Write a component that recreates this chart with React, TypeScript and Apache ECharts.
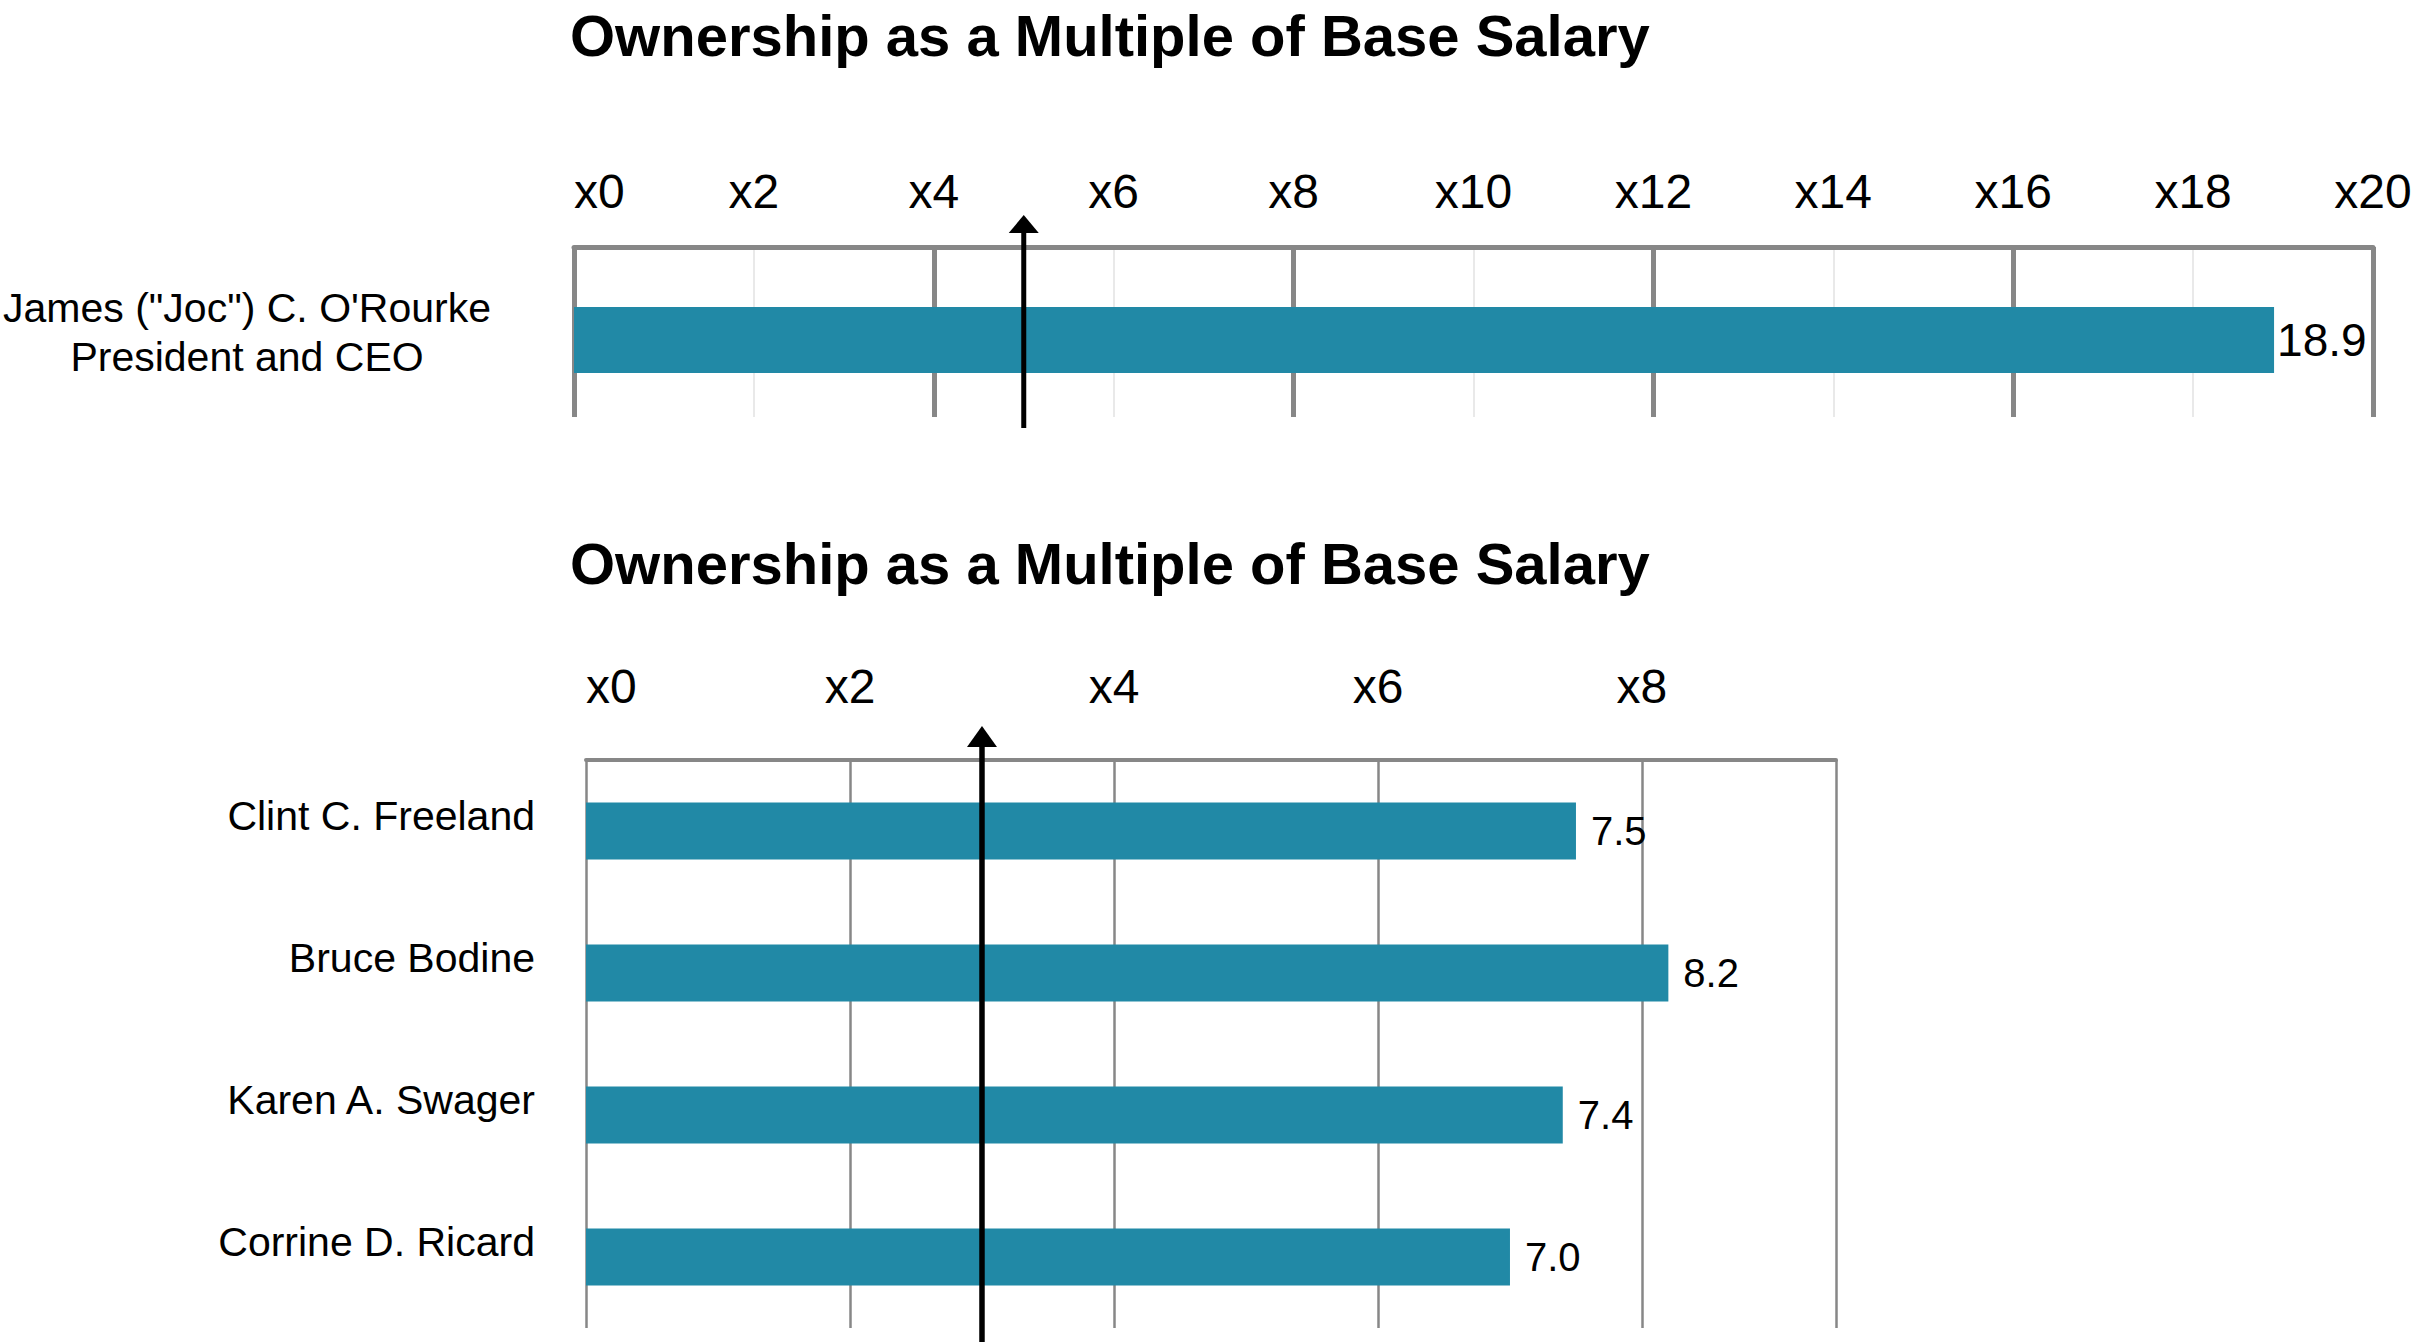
import React, { useEffect, useRef } from 'react';
import * as echarts from 'echarts';

const titleText = 'Ownership as a Multiple of Base Salary';

const ceoCategories = ['James ("Joc") C. O\'Rourke\nPresident and CEO'];
const ceoValues = [18.9];
const ceoTarget = 5;
const ceoAxisMin = 0;
const ceoAxisMax = 20;
const ceoMinorInterval = 2;
const ceoMajorInterval = 4;

const execCategories = ['Clint C. Freeland', 'Bruce Bodine', 'Karen A. Swager', 'Corrine D. Ricard'];
const execValues = [7.5, 8.2, 7.4, 7.0];
const execTarget = 3;
const execAxisMin = 0;
const execAxisMax = 9.47;
const execInterval = 2;

const FONT = "'Liberation Sans', Arial, Helvetica, sans-serif";
const NARROW = "'Liberation Sans Narrow', 'Arial Narrow', 'Liberation Sans', Arial, sans-serif";
const BAR = '#2189a6';
const GRID = '#878787';

const tickLabel = (v: number) => (Math.abs(v % 2) < 1e-9 ? 'x' + v : '');

export default function App() {
  const ref = useRef<HTMLDivElement>(null);
  useEffect(() => {
    const el = ref.current;
    if (!el) return;
    const chart = echarts.init(el, null, { renderer: 'svg' });
    const g0 = { left: 574, top: 247, width: 1799, height: 170 };
    const g1 = { left: 586, top: 760, width: 1250, height: 568 };
    const g2 = { left: 574, top: 255, width: 1799, height: 170 };
    const option: any = {
      animation: false,
      backgroundColor: '#ffffff',
      grid: [
        { ...g0, containLabel: false, outerBoundsMode: 'none' },
        { ...g1, containLabel: false, outerBoundsMode: 'none' },
        { ...g2, containLabel: false, outerBoundsMode: 'none' },
      ],
      xAxis: [
        {
          gridIndex: 0,
          type: 'value',
          position: 'top',
          min: ceoAxisMin,
          max: ceoAxisMax,
          interval: ceoMinorInterval,
          axisLine: { show: true, lineStyle: { color: GRID, width: 5 } },
          axisTick: { show: false },
          axisLabel: {
            formatter: tickLabel,
            fontSize: 48,
            fontFamily: FONT,
            color: '#000',
            margin: 32,
            alignMinLabel: 'left',
            alignMaxLabel: 'center',
            hideOverlap: false,
          },
          splitLine: { show: true, lineStyle: { color: ['rgba(0,0,0,0)', '#e2e2e2'], width: 1.5 } },
        },
        {
          gridIndex: 0,
          type: 'value',
          position: 'bottom',
          min: ceoAxisMin,
          max: ceoAxisMax,
          interval: ceoMajorInterval,
          axisLine: { show: false },
          axisTick: { show: false },
          axisLabel: { show: false },
          splitLine: { show: true, lineStyle: { color: GRID, width: 5 } },
        },
        {
          gridIndex: 1,
          type: 'value',
          position: 'top',
          min: execAxisMin,
          max: execAxisMax,
          interval: execInterval,
          axisLine: { show: true, lineStyle: { color: GRID, width: 4 } },
          axisTick: { show: false },
          axisLabel: {
            formatter: tickLabel,
            fontSize: 48,
            fontFamily: FONT,
            color: '#000',
            margin: 50,
            alignMinLabel: 'left',
            hideOverlap: false,
          },
          splitLine: { show: true, lineStyle: { color: GRID, width: 2.5 } },
        },
        {
          gridIndex: 2,
          type: 'value',
          min: ceoAxisMin,
          max: ceoAxisMax,
          show: false,
          splitLine: { show: false },
        },
      ],
      yAxis: [
        {
          gridIndex: 0,
          type: 'category',
          data: ceoCategories,
          inverse: true,
          axisLine: { show: false },
          axisTick: { show: false },
          splitLine: { show: false },
          axisLabel: {
            fontSize: 41,
            lineHeight: 49,
            fontFamily: FONT,
            color: '#000',
            align: 'center',
            margin: 327,
          },
        },
        {
          gridIndex: 1,
          type: 'category',
          data: execCategories,
          inverse: true,
          axisLine: { show: false },
          axisTick: { show: false },
          splitLine: { show: false },
          axisLabel: {
            fontSize: 41,
            lineHeight: 30,
            verticalAlign: 'bottom',
            fontFamily: FONT,
            color: '#000',
            margin: 51,
          },
        },
        {
          gridIndex: 2,
          type: 'category',
          data: ceoCategories,
          inverse: true,
          show: false,
        },
      ],
      series: [
        {
          type: 'bar',
          xAxisIndex: 3,
          yAxisIndex: 2,
          data: ceoValues,
          barWidth: 66,
          itemStyle: { color: BAR },
          label: {
            show: true,
            position: 'right',
            distance: 3,
            fontSize: 46,
            fontFamily: FONT,
            color: '#000',
            formatter: (p: any) => Number(p.value).toFixed(1),
          },
        },
        {
          type: 'bar',
          xAxisIndex: 2,
          yAxisIndex: 1,
          data: execValues,
          barWidth: 57,
          itemStyle: { color: BAR },
          label: {
            show: true,
            position: 'right',
            distance: 15,
            fontSize: 40,
            fontFamily: NARROW,
            color: '#000',
            formatter: (p: any) => Number(p.value).toFixed(1),
          },
        },
      ],
    };
    chart.setOption(option);

    const xa = chart.convertToPixel({ xAxisIndex: 0 }, ceoTarget) as number;
    const xb = chart.convertToPixel({ xAxisIndex: 2 }, execTarget) as number;
    const tipA = g0.top - 32;
    const endA = g0.top + g0.height + 11;
    const tipB = g1.top - 34;
    const endB = 1342;

    chart.setOption({
      graphic: [
        {
          type: 'text',
          x: 570,
          y: 35,
          style: { text: titleText, font: `bold 58px ${FONT}`, fill: '#000', verticalAlign: 'middle', align: 'left' },
          z: 10,
        },
        {
          type: 'text',
          x: 570,
          y: 563,
          style: { text: titleText, font: `bold 58px ${FONT}`, fill: '#000', verticalAlign: 'middle', align: 'left' },
          z: 10,
        },
        {
          type: 'line',
          shape: { x1: xa, y1: tipA + 14, x2: xa, y2: endA },
          style: { stroke: '#000', lineWidth: 5 },
          z: 20,
        },
        {
          type: 'polygon',
          shape: { points: [[xa - 15, tipA + 18], [xa + 15, tipA + 18], [xa, tipA]] },
          style: { fill: '#000' },
          z: 20,
        },
        {
          type: 'line',
          shape: { x1: xb, y1: tipB + 16, x2: xb, y2: endB },
          style: { stroke: '#000', lineWidth: 5.5 },
          z: 20,
        },
        {
          type: 'polygon',
          shape: { points: [[xb - 15, tipB + 21], [xb + 15, tipB + 21], [xb, tipB]] },
          style: { fill: '#000' },
          z: 20,
        },
      ],
    });

    return () => chart.dispose();
  }, []);
  return (
    <div
      ref={ref}
      style={{ position: 'fixed', left: 0, top: 0, width: 2416, height: 1342, background: '#fff' }}
    />
  );
}
